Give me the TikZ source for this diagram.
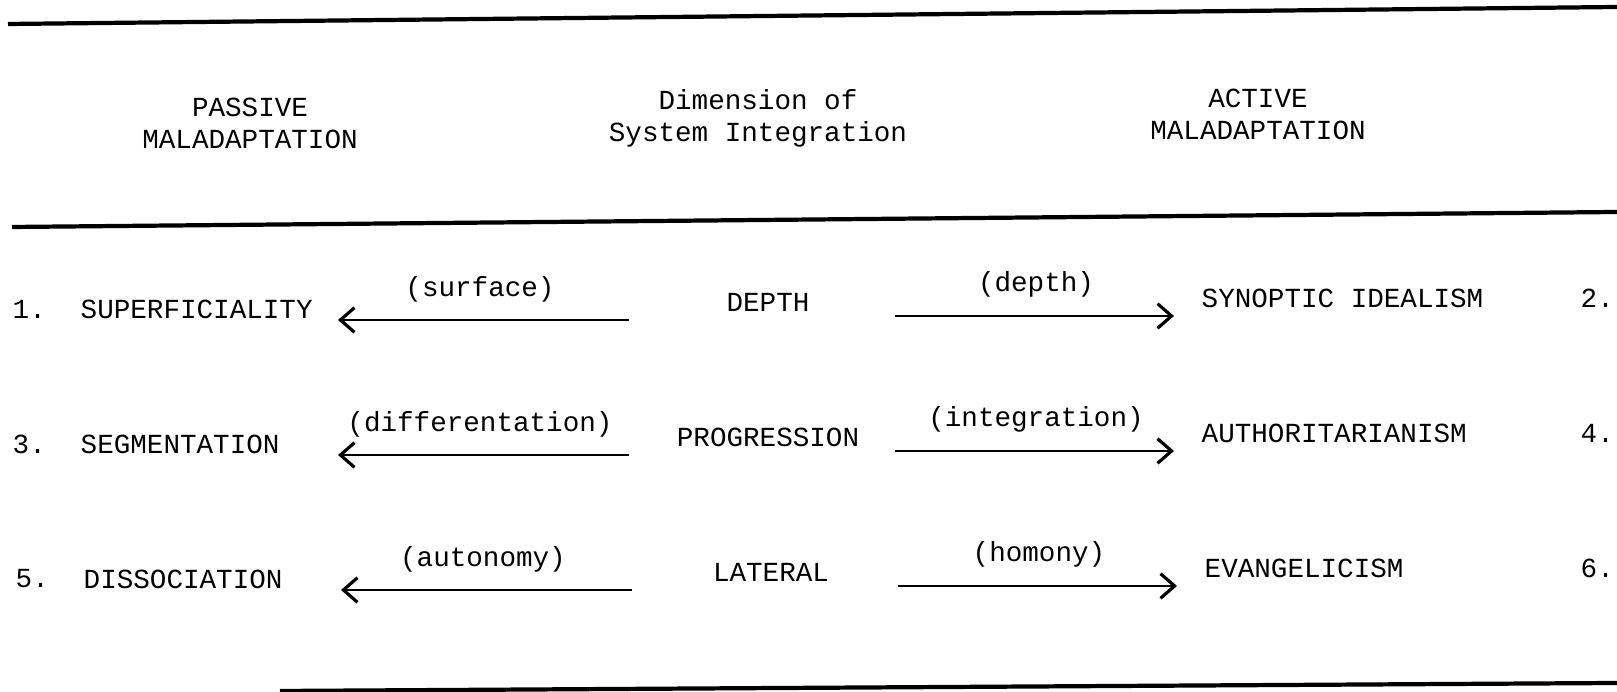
\documentclass[tikz,border=0pt]{standalone}
\usepackage{fontspec}
\setmainfont{Liberation Mono}
\usetikzlibrary{arrows.meta}

\begin{document}
\begin{tikzpicture}[x=0.01cm, y=-0.01cm,
  every node/.style={font=\fontsize{7.85}{9.1}\selectfont, inner sep=0pt},
  term/.style={anchor=west},
  rule/.style={line width=1.2pt},
  arr/.style={line width=0.8pt, -{Straight Barb[length=4pt, width=7pt, line width=0.9pt]}}]
  \useasboundingbox (0,0) rectangle (1617,692);
  % rules
  \coordinate (top1) at (8,24);    \coordinate (top2) at (1617,7);
  \coordinate (mid1) at (12,227);  \coordinate (mid2) at (1617,212);
  \coordinate (bot1) at (280,691); \coordinate (bot2) at (1617,683);
  \draw[rule] (top1) -- (top2);
  \draw[rule] (mid1) -- (mid2);
  \draw[rule] (bot1) -- (bot2);
  % headings
  \node[align=center] (passive) at (250,123) {PASSIVE\\MALADAPTATION};
  \node[align=center] (dimension) at (758,118) {Dimension of\\System Integration};
  \node[align=center] (active) at (1258,114) {ACTIVE\\MALADAPTATION};
  % rows
  \foreach \y/\dx/\n/\m/\a/\la/\d/\ra/\b in {
      309/0/1/2/SUPERFICIALITY/surface/DEPTH/depth/SYNOPTIC IDEALISM,
      444/0/3/4/SEGMENTATION/differentation/PROGRESSION/integration/AUTHORITARIANISM,
      579/3/5/6/DISSOCIATION/autonomy/LATERAL/homony/EVANGELICISM} {
    \node[term] (num\n) at (12+\dx,\y) {\n.};
    \node[term] (left\n) at (80+\dx,\y) {\a};
    \node (dim\n) at (768+\dx,\y-7) {\d};
    \node[term] (right\n) at (1201+\dx,\y-11) {\b};
    \node[term] (num\m) at (1580,\y-11) {\m.};
    \coordinate (la\n) at (629+\dx,\y+11);
    \coordinate (lb\n) at (338+\dx,\y+11);
    \coordinate (ra\n) at (895+\dx,\y+7);
    \coordinate (rb\n) at (1174+\dx,\y+7);
    \draw[arr] (la\n) -- (lb\n);
    \draw[arr] (ra\n) -- (rb\n);
    \node (llab\n) at (480+\dx,\y-20) {(\la)};
    \node (rlab\n) at (1036+\dx,\y-25) {(\ra)};
  }
\end{tikzpicture}
\end{document}
